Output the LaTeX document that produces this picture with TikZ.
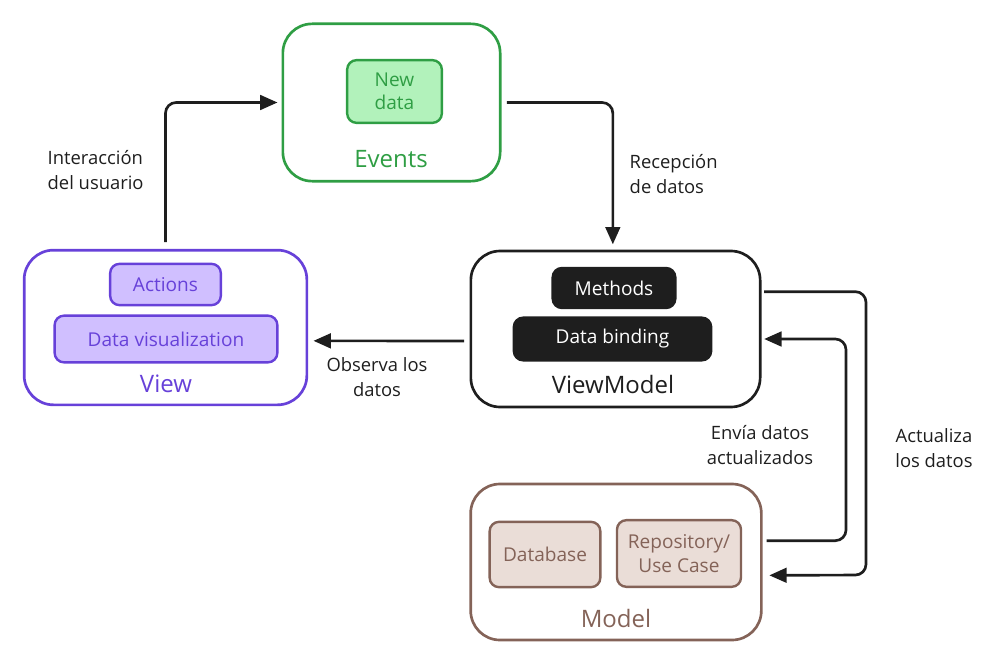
\documentclass[tikz,border=0pt]{standalone}
\usepackage{fontspec}
\setmainfont{Open Sans}
\usepackage{tikz}
\usetikzlibrary{arrows.meta}
\usepackage{xcolor}
\definecolor{evgreen}{HTML}{2F9E44}
\definecolor{evfill}{HTML}{B2F2BB}
\definecolor{vwviolet}{HTML}{6741D9}
\definecolor{vwfill}{HTML}{D0BFFF}
\definecolor{ink}{HTML}{1E1E1E}
\definecolor{mdbrown}{HTML}{846358}
\definecolor{mdfill}{HTML}{EADDD7}

\begin{document}
\begin{tikzpicture}[x=0.75pt, y=-0.75pt,
    outer/.style={draw, line width=2pt, rounded corners=22pt, inner sep=0pt},
    inner/.style={draw, line width=1.8pt, rounded corners=7pt, inner sep=0pt,
        align=center, font=\fontsize{14.3}{17.5}\selectfont},
    title/.style={font=\fontsize{18}{20}\selectfont},
    lbl/.style={font=\fontsize{13.8}{18.75}\selectfont, text=ink},
    arr/.style={-{Triangle[length=13pt,width=11pt]}, line width=2pt, draw=ink,
        rounded corners=8pt}]
    \useasboundingbox (0,0) rectangle (995,663);
    % Nodes
    \node[outer, draw=evgreen, minimum width=163pt, minimum height=118pt] (events) at (391.5,102.5) {};
    \node[inner, draw=evgreen, fill=evfill, text=evgreen, minimum width=71pt, minimum height=47pt] (newdata) at (394.5,91.5) {New\\data};
    \node[title, text=evgreen] (eventstitle) at (391,159) {Events};

    \node[outer, draw=vwviolet, minimum width=212pt, minimum height=116pt] (view) at (165.5,327.5) {};
    \node[inner, draw=vwviolet, fill=vwfill, text=vwviolet, minimum width=83pt, minimum height=31pt] (actions) at (165.5,284.5) {Actions};
    \node[inner, draw=vwviolet, fill=vwfill, text=vwviolet, minimum width=167pt, minimum height=35pt] (dataviz) at (166,339) {Data visualization};
    \node[title, text=vwviolet] (viewtitle) at (166,384) {View};

    \node[outer, draw=ink, minimum width=217pt, minimum height=117pt] (viewmodel) at (615.5,329) {};
    \node[inner, draw=ink, fill=ink, text=white, minimum width=92pt, minimum height=30pt] (methods) at (614,288) {Methods};
    \node[inner, draw=ink, fill=ink, text=white, minimum width=148pt, minimum height=32pt] (binding) at (612.5,339) {Data binding};
    \node[title, text=ink] (viewmodeltitle) at (613,384) {ViewModel};

    \node[outer, draw=mdbrown, minimum width=218pt, minimum height=117pt] (model) at (616,562) {};
    \node[inner, draw=mdbrown, fill=mdfill, text=mdbrown, minimum width=83pt, minimum height=49pt] (database) at (545,554.5) {Database};
    \node[inner, draw=mdbrown, fill=mdfill, text=mdbrown, minimum width=93pt, minimum height=50pt] (repo) at (679,553.5) {Repository/\\Use Case};
    \node[title, text=mdbrown] (modeltitle) at (616,618) {Model};

    % Labels
    \node[lbl, align=left, anchor=west] (lblinteract) at (43,170) {Interacción\\del usuario};
    \node[lbl, align=left, anchor=west] (lblrecv) at (625,174) {Recepción\\de datos};
    \node[lbl, align=center] (lblobserve) at (377,377) {Observa los\\datos};
    \node[lbl, align=center] (lblsend) at (760,445) {Envía datos\\actualizados};
    \node[lbl, align=center] (lblupdate) at (934,448) {Actualiza\\los datos};

    % Arrows
    \draw[arr, shorten <=5pt, shorten >=3pt] (view.north) |- (events.west);
    \draw[arr, shorten <=4pt, shorten >=4pt] (events.east) -| ([xshift=-2pt]viewmodel.north);
    \draw[arr, shorten <=4pt, shorten >=4pt] ([yshift=-9pt]viewmodel.west) -- ([yshift=-10pt]view.east);
    \draw[arr] ([xshift=2pt,yshift=28pt]viewmodel.east) -| (866,575) -- ([xshift=5pt,yshift=-10pt]model.east);
    \draw[arr] ([xshift=3pt,yshift=16pt]model.east) -| (846,339) -- ([xshift=2pt,yshift=-7.5pt]viewmodel.east);
\end{tikzpicture}
\end{document}
